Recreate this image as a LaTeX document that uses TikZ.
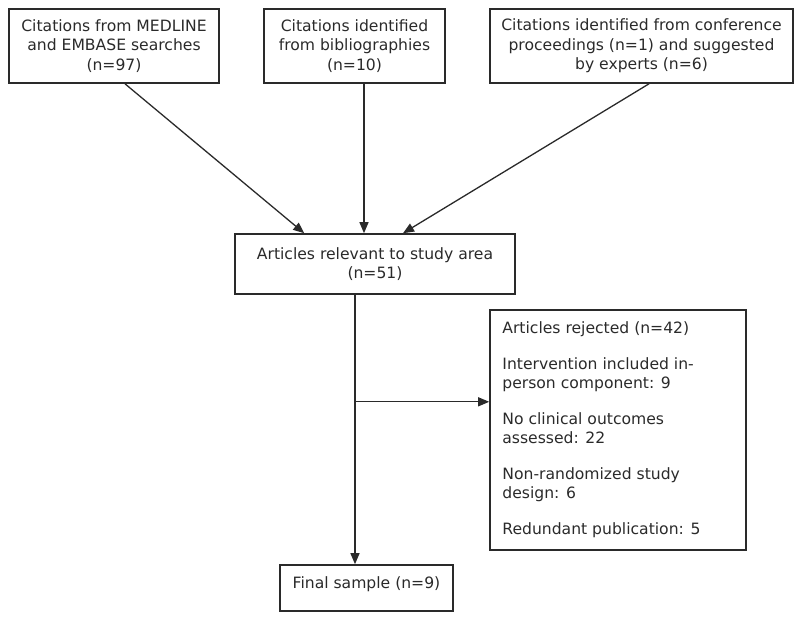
\documentclass[tikz,border=0pt]{standalone}
\usepackage{fontspec}
\setmainfont{DejaVu Sans}
\usetikzlibrary{arrows.meta,calc}
\definecolor{ink}{HTML}{2A2A2A}
\begin{document}
\begin{tikzpicture}[x=1pt,y=-1pt,
  box/.style={draw=ink,line width=1.6pt,text=ink,inner sep=0pt,align=center,
    font=\fontsize{15.6}{19.5}\selectfont},
  conn/.style={draw=ink,line width=1.3pt,-{Triangle[length=11pt,width=9pt]}}]
\useasboundingbox (0,0) rectangle (800,619);
\node[box,minimum width=210pt,minimum height=74pt] (b1) at (114,46)
  {Citations from MEDLINE\\and EMBASE searches\\(n=97)};
\node[box,minimum width=181pt,minimum height=74pt] (b2) at (354.5,46)
  {Citations identified\\from bibliographies\\(n=10)};
\node[box,minimum width=303pt,minimum height=74pt] (b3) at (641.5,46)
  {Citations identified from conference\\proceedings (n=1) and suggested\\by experts (n=6)};
\node[box,minimum width=280pt,minimum height=60pt] (rel) at (375,264)
  {Articles relevant to study area\\(n=51)};
\node[box,minimum width=256pt,minimum height=240pt] (rej) at (618,430) {};
\node[anchor=north west,text=ink,inner sep=0pt,align=left,
  font=\fontsize{15.6}{18.5}\selectfont] (rejtext) at ($(rej.north west)+(13,12)$)
  {Articles rejected (n=42)\\[18pt]
   Intervention included in-\\person component: 9\\[18pt]
   No clinical outcomes\\assessed: 22\\[18pt]
   Non-randomized study\\design: 6\\[18pt]
   Redundant publication: 5};
\node[box,minimum width=173pt,minimum height=46pt,text height=11pt,text depth=11pt] (fin) at (366.5,588)
  {Final sample (n=9)};
\coordinate (s1) at ($(b1.south)+(11,0)$);
\coordinate (e1) at ($(rel.north west)+(70,0)$);
\coordinate (s2) at ($(b2.south)+(9.5,0)$);
\coordinate (s3) at ($(b3.south)+(7.5,0)$);
\coordinate (e3) at ($(rel.north)+(28,0)$);
\coordinate (v) at ($(rel.south)+(-20,0)$);
\coordinate (br) at ($(rel.south)+(-20,107)$);
\draw[conn] (s1) -- (e1);
\draw[conn] (s2) -- (s2 |- rel.north);
\draw[conn] (s3) -- (e3);
\draw[conn] (v) -- (v |- fin.north);
\draw[conn] (br) -- (br -| rej.west);
\end{tikzpicture}
\end{document}
